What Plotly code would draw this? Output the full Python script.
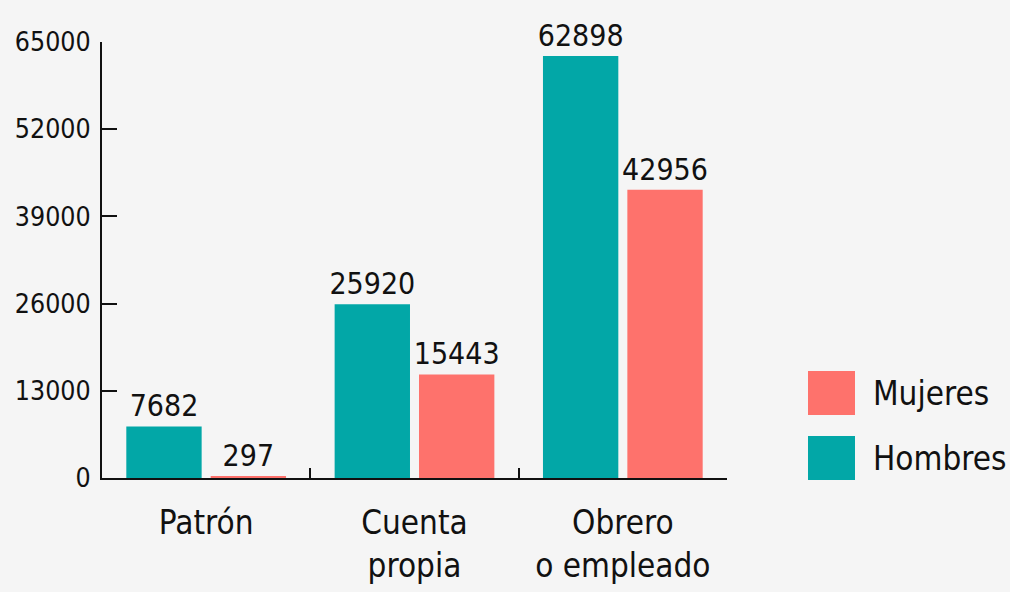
import plotly.graph_objects as go

categories = ["Patrón", "Cuenta<br>propia", "Obrero<br>o empleado"]
hombres = [7682, 25920, 62898]
mujeres = [297, 15443, 42956]
y_ticks = [0, 13000, 26000, 39000, 52000, 65000]
series_names = ["Hombres", "Mujeres"]

FONT = "DejaVu Sans Condensed, DejaVu Sans, sans-serif"
C_H = "#02a7a7"
C_M = "#fe726c"
INK = "#111111"
W, H = 1010, 592
ML, MR, MT, MB = 102, 283, 42, 114
PW, PH = W - ML - MR, H - MT - MB


def fnt(size):
    return dict(size=size, color=INK, family=FONT)


fig = go.Figure()
for vals, name, col in [(hombres, series_names[0], C_H), (mujeres, series_names[1], C_M)]:
    fig.add_trace(go.Bar(x=categories, y=vals, name=name, marker_color=col,
                         marker_line_width=0,
                         text=[str(v) for v in vals], textposition="outside",
                         textfont=fnt(30), constraintext="none",
                         cliponaxis=False, showlegend=False))


def px_x(p):
    return (p - ML) / PW


def px_y(p):
    return (H - MB - p) / PH


# manual legend (large square swatches)
legend_items = [(series_names[1], C_M, 371), (series_names[0], C_H, 436)]
for name, col, top in legend_items:
    fig.add_shape(type="rect", xref="paper", yref="paper",
                  x0=px_x(808), x1=px_x(855), y0=px_y(top + 44), y1=px_y(top),
                  fillcolor=col, line_width=0)
    fig.add_annotation(xref="paper", yref="paper", x=px_x(871), y=px_y(top + 22),
                       text=name, showarrow=False, xanchor="left", yanchor="middle",
                       font=fnt(33))

fig.update_layout(
    width=W, height=H,
    margin=dict(l=ML, r=MR, t=MT, b=MB, autoexpand=False),
    paper_bgcolor="#f5f5f5", plot_bgcolor="#f5f5f5",
    barmode="group", bargap=0.19, bargroupgap=0.107,
    font=dict(family=FONT, color=INK),
    showlegend=False,
)
fig.update_xaxes(showline=True, linecolor=INK, linewidth=2,
                 ticks="inside", tickson="boundaries", ticklen=10, tickwidth=2, tickcolor=INK,
                 tickfont=fnt(33), tickangle=0, automargin=False,
                 ticklabelstandoff=14, showgrid=False, zeroline=False)
fig.update_yaxes(range=[0, 65000], tickvals=y_ticks, ticktext=[str(v) for v in y_ticks],
                 showline=True, linecolor=INK, linewidth=2,
                 ticks="inside", ticklen=15, tickwidth=2, tickcolor=INK,
                 tickfont=fnt(26.5), automargin=False,
                 ticklabelstandoff=4, showgrid=False, zeroline=False)

post = ("document.body.style.margin='0';"
        "var s=document.createElement('style');"
        "s.textContent='svg text{font-stretch:condensed !important;}';"
        "document.head.appendChild(s);")
fig.write_html("out.html", post_script=post, config={"displayModeBar": False})
